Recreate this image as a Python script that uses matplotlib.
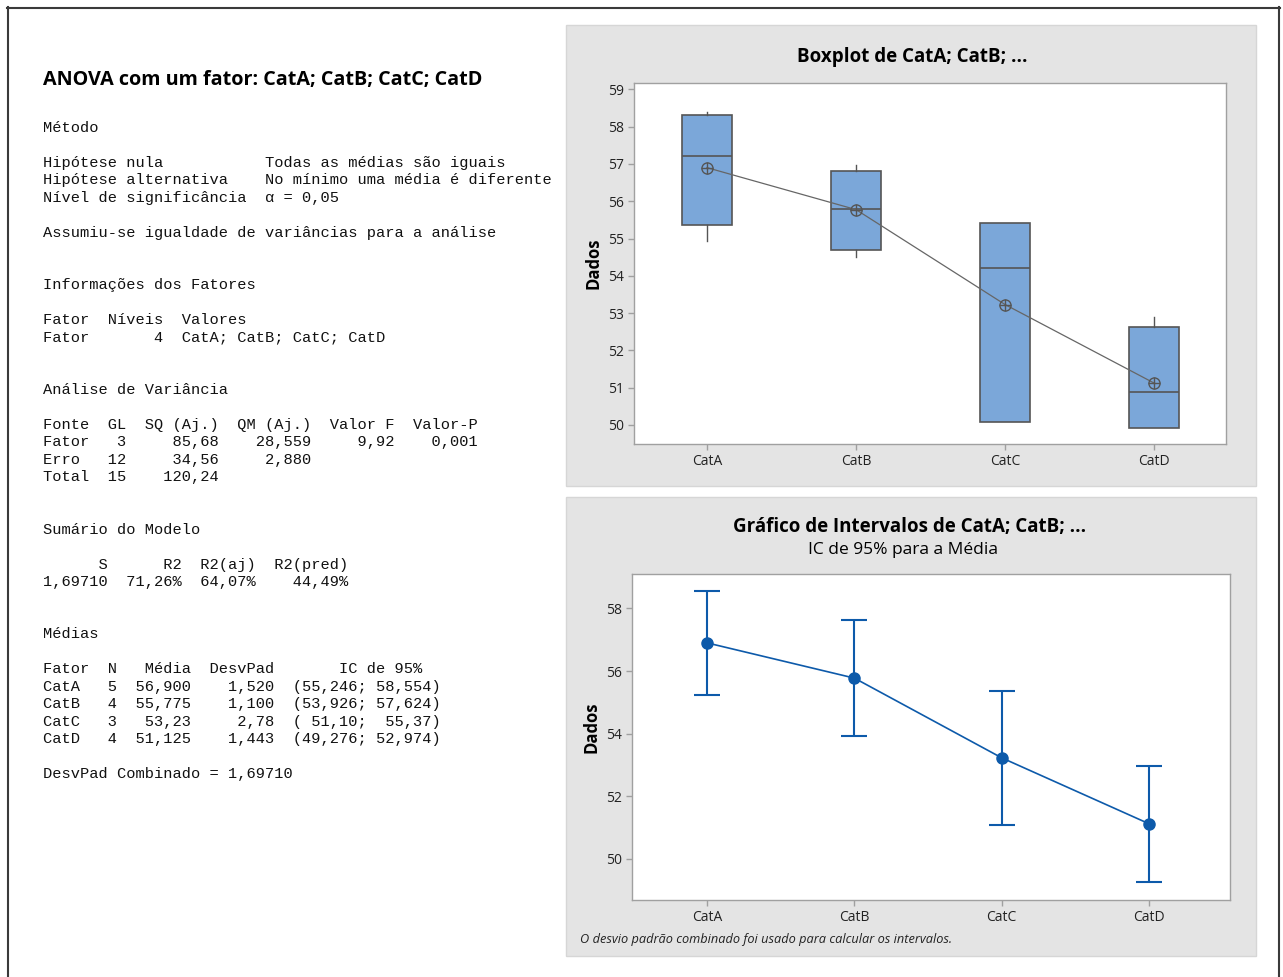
import matplotlib
matplotlib.use("Agg")
import matplotlib.pyplot as plt
from matplotlib.patches import Rectangle
from matplotlib.lines import Line2D
import numpy as np

# ---------------- data ----------------
categories = ["CatA", "CatB", "CatC", "CatD"]
box_q1 = [55.37, 54.68, 50.09, 49.93]
box_median = [57.21, 55.79, 54.21, 50.88]
box_q3 = [58.31, 56.82, 55.41, 52.63]
box_whislo = [54.93, 54.51, 50.09, 49.93]
box_whishi = [58.39, 56.97, 55.41, 52.90]
means = [56.900, 55.775, 53.23, 51.125]
ci_low = [55.246, 53.926, 51.10, 49.276]
ci_high = [58.554, 57.624, 55.37, 52.974]

box_yticks = [50, 51, 52, 53, 54, 55, 56, 57, 58, 59]
int_yticks = [50, 52, 54, 56, 58]

title_text = "ANOVA com um fator: CatA; CatB; CatC; CatD"
session_lines = [
    "Método",
    "",
    "Hipótese nula           Todas as médias são iguais",
    "Hipótese alternativa    No mínimo uma média é diferente",
    "Nível de significância  α = 0,05",
    "",
    "Assumiu-se igualdade de variâncias para a análise",
    "",
    "",
    "Informações dos Fatores",
    "",
    "Fator  Níveis  Valores",
    "Fator       4  CatA; CatB; CatC; CatD",
    "",
    "",
    "Análise de Variância",
    "",
    "Fonte  GL  SQ (Aj.)  QM (Aj.)  Valor F  Valor-P",
    "Fator   3     85,68    28,559     9,92    0,001",
    "Erro   12     34,56     2,880",
    "Total  15    120,24",
    "",
    "",
    "Sumário do Modelo",
    "",
    "      S      R2  R2(aj)  R2(pred)",
    "1,69710  71,26%  64,07%    44,49%",
    "",
    "",
    "Médias",
    "",
    "Fator  N   Média  DesvPad       IC de 95%",
    "CatA   5  56,900    1,520  (55,246; 58,554)",
    "CatB   4  55,775    1,100  (53,926; 57,624)",
    "CatC   3   53,23     2,78  ( 51,10;  55,37)",
    "CatD   4  51,125    1,443  (49,276; 52,974)",
    "",
    "DesvPad Combinado = 1,69710",
]

# ---------------- figure ----------------
W, H = 1283, 977
fig = plt.figure(figsize=(W / 100, H / 100), dpi=100)
fig.patch.set_facecolor("white")

def fx(x):
    return x / W

def fy(y):
    return 1 - y / H

def axes_px(x0, y0, x1, y1):
    return fig.add_axes([fx(x0), fy(y1), (x1 - x0) / W, (y1 - y0) / H])

# outer frame
for (xa, ya, xb, yb) in [(7, 7.5, 1280, 7.5), (7.5, 7, 7.5, 977), (1279, 7, 1279, 977)]:
    fig.add_artist(Line2D([fx(xa), fx(xb)], [fy(ya), fy(yb)], transform=fig.transFigure,
                          color="#3a3a3a", lw=1.5, zorder=-5))

# panels
for (x0, y0, x1, y1) in [(566, 25, 1256, 486), (566, 497, 1256, 956)]:
    fig.add_artist(Rectangle((fx(x0), fy(y1)), (x1 - x0) / W, (y1 - y0) / H,
                             transform=fig.transFigure, facecolor="#E4E4E4",
                             edgecolor="#D6D6D6", lw=1, zorder=-10))

# ---------------- session text ----------------
fig.text(fx(43), fy(80), title_text, fontsize=14.2, fontweight="bold",
         family="Open Sans", va="center", ha="left", color="black")
y0 = 128.0
step = 17.46
for i, line in enumerate(session_lines):
    if line:
        fig.text(fx(43), fy(y0 + i * step), line, fontsize=11.07,
                 family="Liberation Mono", va="center", ha="left", color="#111111")

chart_font = "Open Sans"
axis_col = "#A0A0A0"
xpos = np.arange(len(categories))

def style_axes(ax):
    for s in ax.spines.values():
        s.set_color(axis_col)
        s.set_linewidth(1.0)
    ax.tick_params(axis="both", colors=axis_col, length=4, width=1, labelcolor="#222222",
                   labelsize=10, pad=3)
    for lab in ax.get_xticklabels() + ax.get_yticklabels():
        lab.set_family(chart_font)
    ax.set_facecolor("white")

# ---------------- boxplot ----------------
ax1 = axes_px(634, 83, 1226, 444)
stats = []
for i in range(len(categories)):
    stats.append(dict(med=box_median[i], q1=box_q1[i], q3=box_q3[i],
                      whislo=box_whislo[i], whishi=box_whishi[i], fliers=[]))
ax1.bxp(stats, positions=xpos, widths=0.34, patch_artist=True, showcaps=False,
        showfliers=False,
        boxprops=dict(facecolor="#7BA7D9", edgecolor="#555555", linewidth=1.2),
        medianprops=dict(color="#555555", linewidth=1.2),
        whiskerprops=dict(color="#555555", linewidth=1.0))
ax1.plot(xpos, means, color="#666666", lw=0.9, zorder=4)
ax1.plot(xpos, means, "o", mfc="none", mec="#555555", ms=8, mew=1.0, zorder=5)
ax1.plot(xpos, means, "+", color="#555555", ms=8, mew=1.0, zorder=5)
ax1.set_xlim(-0.49, 3.483)
ax1.set_ylim(49.49, 59.17)
ax1.set_yticks(box_yticks)
ax1.set_xticks(xpos)
ax1.set_xticklabels(categories)
style_axes(ax1)

fig.text(fx(912), fy(57), "Boxplot de CatA; CatB; ...", fontsize=13.5, fontweight="bold",
         family=chart_font, ha="center", va="center", color="black")
fig.text(fx(593), fy(263), "Dados", fontsize=12, fontweight="bold", family=chart_font,
         rotation=90, ha="center", va="center", color="black")

# ---------------- interval plot ----------------
ax2 = axes_px(632, 574, 1230, 900)
m = np.array(means)
yerr = [m - np.array(ci_low), np.array(ci_high) - m]
ax2.errorbar(xpos, means, yerr=yerr, fmt="o-", color="#0D5AAA", ms=8, lw=1.2,
             elinewidth=1.5, capsize=9.7, capthick=1.5, zorder=3)
ax2.set_xlim(-0.51, 3.55)
ax2.set_ylim(48.69, 59.1)
ax2.set_yticks(int_yticks)
ax2.set_xticks(xpos)
ax2.set_xticklabels(categories)
style_axes(ax2)

fig.text(fx(910), fy(527), "Gráfico de Intervalos de CatA; CatB; ...", fontsize=13.5,
         fontweight="bold", family=chart_font, ha="center", va="center", color="black")
fig.text(fx(903), fy(550), "IC de 95% para a Média", fontsize=12.5, family=chart_font,
         ha="center", va="center", color="black")
fig.text(fx(592), fy(727), "Dados", fontsize=12, fontweight="bold", family=chart_font,
         rotation=90, ha="center", va="center", color="black")
fig.text(fx(580), fy(940), "O desvio padrão combinado foi usado para calcular os intervalos.",
         fontsize=9.2, style="italic", family=chart_font, ha="left", va="center", color="#222222")

fig.savefig("out.png", dpi=100)
